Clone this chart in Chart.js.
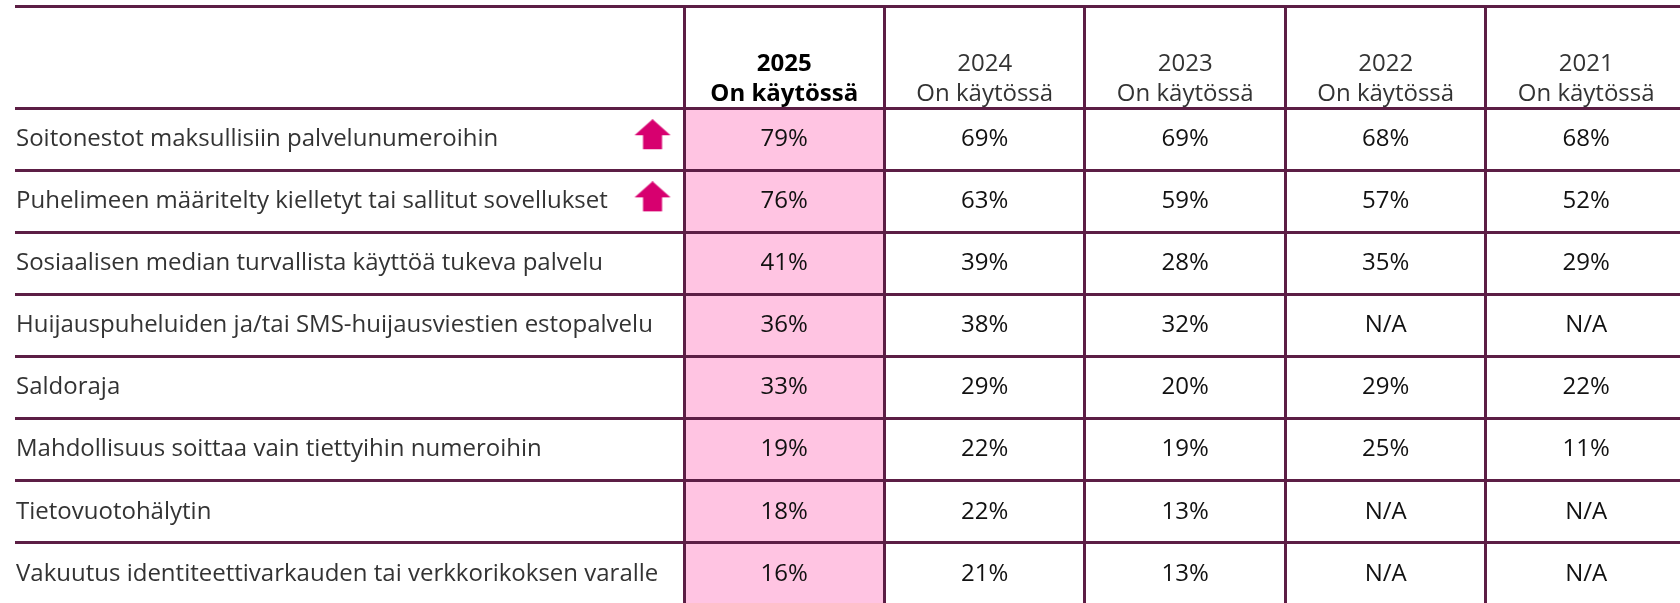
<!DOCTYPE html>
<html>
<head>
<meta charset="utf-8">
<script src="https://cdn.jsdelivr.net/npm/chart.js@4"></script>
<style>
body{margin:0;background:#fff;}
#wrap{width:1680px;height:603px;}
</style>
</head>
<body>
<div id="wrap"><canvas id="chart"></canvas></div>
<script>
const rows = [
  "Soitonestot maksullisiin palvelunumeroihin",
  "Puhelimeen määritelty kielletyt tai sallitut sovellukset",
  "Sosiaalisen median turvallista käyttöä tukeva palvelu",
  "Huijauspuheluiden ja/tai SMS-huijausviestien estopalvelu",
  "Saldoraja",
  "Mahdollisuus soittaa vain tiettyihin numeroihin",
  "Tietovuotohälytin",
  "Vakuutus identiteettivarkauden tai verkkorikoksen varalle"
];
const years = ["2025", "2024", "2023", "2022", "2021"];
const subHeader = "On käytössä";
const v2025 = [79, 76, 41, 36, 33, 19, 18, 16];
const v2024 = [69, 63, 39, 38, 29, 22, 22, 21];
const v2023 = [69, 59, 28, 32, 20, 19, 13, 13];
const v2022 = [68, 57, 35, null, 29, 25, null, null];
const v2021 = [68, 52, 29, null, 22, 11, null, null];
const risen = [0, 1]; // rows with the up arrow

const columns = [v2025, v2024, v2023, v2022, v2021];

const LINE = "#5c1e45";
const PINK = "#ffc4e2";
const MAGENTA = "#d7006f";
const FONT = "'Open Sans'";

// label column is ~3.34 year columns wide, header ~1.64 rows tall
const X_MIN = -3.337, X_MAX = 4.968;
const Y_MIN = -1.643, Y_MAX = 7.97;

// up arrow image for the point style
const arrow = document.createElement("canvas");
arrow.width = 38; arrow.height = 31;
(function(){
  const c = arrow.getContext("2d");
  c.fillStyle = MAGENTA;
  c.beginPath();
  c.moveTo(19, 0);
  c.lineTo(37, 16);
  c.lineTo(28.5, 16);
  c.lineTo(28.5, 30);
  c.lineTo(9.5, 30);
  c.lineTo(9.5, 16);
  c.lineTo(1, 16);
  c.closePath();
  c.fill();
})();

const tableText = {
  id: "tableText",
  afterDraw(chart){
    const ctx = chart.ctx;
    const x = chart.scales.x, y = chart.scales.y;
    ctx.save();
    ctx.textBaseline = "middle";

    // header
    ctx.textAlign = "center";
    years.forEach((yr, i) => {
      const cx = x.getPixelForValue(i + 0.5);
      ctx.fillStyle = i === 0 ? "#000" : "#333";
      ctx.font = (i === 0 ? "bold " : "") + "24px " + FONT;
      ctx.fillText(yr, cx, y.getPixelForValue(-0.7));
      ctx.fillText(subHeader, cx, y.getPixelForValue(-0.22));
    });

    // row labels
    ctx.textAlign = "left";
    ctx.font = "24px " + FONT;
    ctx.fillStyle = "#333";
    rows.forEach((r, i) => {
      ctx.fillText(r, chart.chartArea.left + 1, y.getPixelForValue(i + 0.5));
    });

    // values
    ctx.textAlign = "center";
    ctx.fillStyle = "#111";
    columns.forEach((col, c) => {
      col.forEach((v, i) => {
        const t = v === null ? "N/A" : v + "%";
        ctx.fillText(t, x.getPixelForValue(c + 0.5), y.getPixelForValue(i + 0.5));
      });
    });
    ctx.restore();
  }
};

// z: 1 puts the table lines above the pink cells
const gridOpts = { color: LINE, lineWidth: 3, drawTicks: false, tickLength: 0, offset: false, z: 1 };

new Chart(document.getElementById("chart"), {
  type: "bar",
  data: {
    datasets: [{
      type: "bar",
      indexAxis: "y",
      data: rows.map((r, i) => ({ x: [0, 1], y: i + 0.5 })),
      backgroundColor: PINK,
      borderWidth: 0,
      barPercentage: 1,
      categoryPercentage: 1
    }, {
      type: "scatter",
      data: risen.map(i => ({ x: -0.157, y: i + 0.43 })),
      pointStyle: arrow,
      pointRadius: 15
    }]
  },
  options: {
    responsive: true,
    maintainAspectRatio: false,
    animation: false,
    layout: { autoPadding: false, padding: { left: 15, top: 6, right: 0, bottom: 0 } },
    plugins: { legend: { display: false }, tooltip: { enabled: false } },
    scales: {
      x: {
        type: "linear",
        min: X_MIN, max: X_MAX,
        offset: false,
        afterBuildTicks: s => { s.ticks = [0, 1, 2, 3, 4].map(v => ({ value: v })); },
        ticks: { display: false },
        grid: gridOpts,
        border: { display: false }
      },
      y: {
        type: "linear",
        reverse: true,
        min: Y_MIN, max: Y_MAX,
        offset: false,
        afterBuildTicks: s => { s.ticks = [Y_MIN, 0, 1, 2, 3, 4, 5, 6, 7].map(v => ({ value: v })); },
        ticks: { display: false },
        grid: gridOpts,
        border: { display: false }
      }
    }
  },
  plugins: [tableText]
});
</script>
</body>
</html>
